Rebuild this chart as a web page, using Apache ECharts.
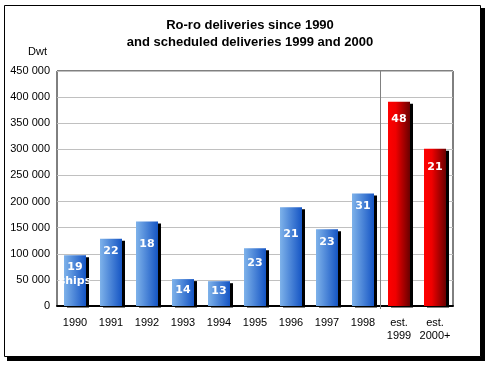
<!DOCTYPE html>
<html><head><meta charset="utf-8">
<script src="https://cdn.jsdelivr.net/npm/echarts@6/dist/echarts.min.js"></script>
<style>html,body{margin:0;padding:0;background:#fff}#c{width:487px;height:365px}</style>
</head><body><div id="c"></div>
<script>
var categories = ['1990','1991','1992','1993','1994','1995','1996','1997','1998','est.\n1999','est.\n2000+'];
var dwtValues = [97000,129000,162000,51500,47500,110500,189000,147000,215500,391000,301000];
var shipCounts = ['19\nships','22','18','14','13','23','21','23','31','48','21'];
var estimated = [false,false,false,false,false,false,false,false,false,true,true];
var yTicks = {min:0,max:450000,interval:50000};

// label placement (style only)
var labelDistance = [4.5, 6, 15.5, 4.5, 2.5, 7.5, 19.5, 5.5, 6, 10.5, 11.5];

var blue = {type:'linear',x:0,y:0,x2:1,y2:0,colorStops:[{offset:0,color:'#7eb2ea'},{offset:1,color:'#1555c4'}]};
var red = {type:'linear',x:0,y:0,x2:1,y2:0,colorStops:[{offset:0,color:'#ff0000'},{offset:0.35,color:'#f00000'},{offset:1,color:'#6a0000'}]};

var data = dwtValues.map(function(v,i){
  return {value:v, itemStyle:{color: estimated[i]?red:blue}, label:{formatter: shipCounts[i], distance: labelDistance[i]}};
});

var chart = echarts.init(document.getElementById('c'));
chart.setOption({
  animation:false,
  backgroundColor:'#ffffff',
  title:{text:'Ro-ro deliveries since 1990\nand scheduled deliveries 1999 and 2000',left:245,textAlign:'center',top:12,
    textStyle:{fontFamily:'Liberation Sans',fontSize:13,fontWeight:'bold',color:'#000',lineHeight:17}},
  grid:{left:57,top:71,width:396,height:235,show:true,borderColor:'#000',borderWidth:1,backgroundColor:'transparent'},
  xAxis:{type:'category',data:categories,
    axisLine:{show:true,lineStyle:{color:'#000',width:2}},axisTick:{show:false},
    axisLabel:{interval:0,margin:10,fontFamily:'Liberation Sans',fontSize:11,color:'#000',lineHeight:13}},
  yAxis:{type:'value',min:yTicks.min,max:yTicks.max,interval:yTicks.interval,
    name:'Dwt',nameLocation:'end',nameGap:14,nameTextStyle:{fontFamily:'Liberation Sans',fontSize:11,color:'#000',align:'right',padding:[0,10,0,0]},
    axisLine:{show:false},axisTick:{show:false},
    splitLine:{lineStyle:{color:'#c0c0c0',width:1}},
    axisLabel:{margin:7,fontFamily:'Liberation Sans',fontSize:11,color:'#000',
      formatter:function(v){return String(v).replace(/\B(?=(\d{3})+(?!\d))/g,' ');}}},
  series:[{type:'bar',data:data,barWidth:22,
    itemStyle:{shadowColor:'#000',shadowOffsetX:3,shadowOffsetY:2,shadowBlur:0},
    label:{show:true,position:'insideTop',color:'#fff',fontFamily:'DejaVu Sans',fontWeight:'bold',fontSize:11,lineHeight:14}
  }],
  graphic:[
    {type:'rect',shape:{x:7,y:8,width:478,height:353},style:{fill:'#000'},z:-10},
    {type:'rect',shape:{x:4.5,y:5.5,width:476,height:351},style:{fill:'#fff',stroke:'#000',lineWidth:1},z:-9},
    {type:'rect',shape:{x:58,y:307.5,width:394,height:3},style:{fill:'#fff'},z:4},
    {type:'line',shape:{x1:380.5,y1:71,x2:380.5,y2:309},style:{stroke:'#808080',lineWidth:1},z:5}
  ]
});
</script></body></html>
